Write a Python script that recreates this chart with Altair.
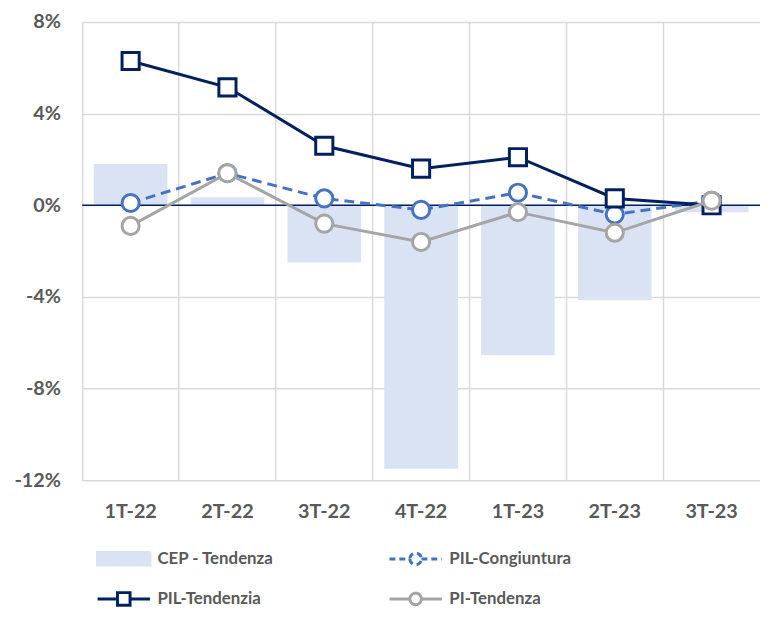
import altair as alt
import pandas as pd

categories = ["1T-22", "2T-22", "3T-22", "4T-22", "1T-23", "2T-23", "3T-23"]
cep_tendenza = [1.8, 0.35, -2.5, -11.5, -6.55, -4.15, -0.3]
pil_congiuntura = [0.1, 1.4, 0.3, -0.2, 0.55, -0.4, 0.2]
pil_tendenzia = [6.3, 5.15, 2.6, 1.6, 2.1, 0.3, 0.0]
pi_tendenza = [-0.9, 1.4, -0.8, -1.6, -0.3, -1.2, 0.2]
y_ticks = [-12, -8, -4, 0, 4, 8]

series_names = ["CEP - Tendenza", "PIL-Congiuntura", "PIL-Tendenzia", "PI-Tendenza"]
series_colors = ["#dae3f3", "#4472c4", "#002060", "#a5a5a5"]

FONT = "Lato"
TXT = "#595959"


def frame(name, vals):
    return pd.DataFrame({"periodo": categories, "valore": vals, "serie": name})


df_cep = frame(series_names[0], cep_tendenza)
df_cong = frame(series_names[1], pil_congiuntura)
df_pil = frame(series_names[2], pil_tendenzia)
df_pi = frame(series_names[3], pi_tendenza)
df_all = pd.concat([df_cep, df_cong, df_pil, df_pi], ignore_index=True)
df_zero = pd.DataFrame({"zero": [0]})

# legend symbol glyphs (unit square [-1, 1])
bar_path = "M-1,-0.24H1V0.24H-1Z"
sq_path = "M-1,0H-0.24M0.24,0H1M-0.24,-0.24H0.24V0.24H-0.24Z"
circ_path = "M-1,0H-0.22M0.22,0H1M-0.22,0A0.22,0.22,0,1,0,0.22,0A0.22,0.22,0,1,0,-0.22,0Z"
legend_paths = [bar_path, circ_path, sq_path, circ_path]

fill_expr = f"datum.value == '{series_names[0]}' ? '{series_colors[0]}' : 'white'"
stroke_expr = (
    f"datum.value == '{series_names[0]}' ? '{series_colors[0]}' : "
    f"(datum.value == '{series_names[1]}' ? '{series_colors[1]}' : "
    f"(datum.value == '{series_names[2]}' ? '{series_colors[2]}' : '{series_colors[3]}'))"
)
dash_expr = f"datum.value == '{series_names[1]}' ? [6, 4] : [1, 0]"

legend = alt.Legend(
    title=None,
    orient="none",
    direction="horizontal",
    legendX=14,
    legendY=514,
    columns=2,
    symbolSize=2809,
    symbolStrokeWidth=3,
    symbolOpacity=1,
    symbolDash={"expr": dash_expr},
    labelFont=FONT,
    labelFontSize=17,
    labelFontWeight="bold",
    labelColor=TXT,
    labelOffset=6,
    columnPadding=110,
    rowPadding=0,
)

x = alt.X(
    "periodo:N",
    sort=categories,
    scale=alt.Scale(paddingInner=0, paddingOuter=0),
    axis=alt.Axis(
        title=None,
        bandPosition=0,
        grid=True,
        gridColor="#d9d9d9",
        gridWidth=1.5,
        domain=False,
        ticks=False,
        labelAngle=0,
        labelFont=FONT,
        labelFontSize=20,
        labelFontWeight="bold",
        labelColor=TXT,
        labelPadding=22,
    ),
)

y = alt.Y(
    "valore:Q",
    scale=alt.Scale(domain=[-12, 8], nice=False, zero=False),
    axis=alt.Axis(
        title=None,
        values=y_ticks,
        labelExpr="datum.value + '%'",
        grid=True,
        gridColor="#d9d9d9",
        gridWidth=1.5,
        domain=False,
        ticks=False,
        labelFont=FONT,
        labelFontSize=20,
        labelFontWeight="bold",
        labelColor=TXT,
        labelPadding=22,
    ),
)

bars = alt.Chart(df_cep).mark_bar(
    width=alt.RelativeBandSize(0.76), color=series_colors[0]
).encode(x=x, y=y)

zero = alt.Chart(df_zero).mark_rule(color="#002060", strokeWidth=1.5).encode(
    y=alt.Y("zero:Q")
)

# invisible layer that only carries the legend
legend_layer = alt.Chart(df_all).mark_point(
    opacity=0,
    filled=False,
    fill={"expr": fill_expr},
    stroke={"expr": stroke_expr},
    strokeWidth=3,
).encode(
    x=alt.X("periodo:N", sort=categories),
    y=alt.Y("valore:Q"),
    shape=alt.Shape(
        "serie:N",
        scale=alt.Scale(domain=series_names, range=legend_paths),
        legend=legend,
    ),
)


def series_layers(df, col, shape, dash=None):
    line_kwargs = dict(strokeWidth=3, color=col)
    if dash:
        line_kwargs["strokeDash"] = dash
    line = alt.Chart(df).mark_line(**line_kwargs).encode(
        x=alt.X("periodo:N", sort=categories),
        y=alt.Y("valore:Q"),
    )
    pts = alt.Chart(df).mark_point(
        shape=shape, size=300, filled=False, fill="white", stroke=col,
        strokeWidth=3, opacity=1,
    ).encode(
        x=alt.X("periodo:N", sort=categories),
        y=alt.Y("valore:Q"),
    )
    return [line, pts]


layers = [bars, zero]
layers += series_layers(df_cong, series_colors[1], "circle", [10, 6])
layers += series_layers(df_pil, series_colors[2], "square")
layers += series_layers(df_pi, series_colors[3], "circle")
layers.append(legend_layer)

chart = (
    alt.layer(*layers)
    .properties(
        width=685,
        height=463,
        autosize=alt.AutoSizeParams(type="none"),
        padding={"left": 75, "top": 11, "right": 0, "bottom": 127},
    )
    .configure_view(stroke=None)
)

chart.save("out.html", embed_options={"renderer": "svg", "actions": False})
